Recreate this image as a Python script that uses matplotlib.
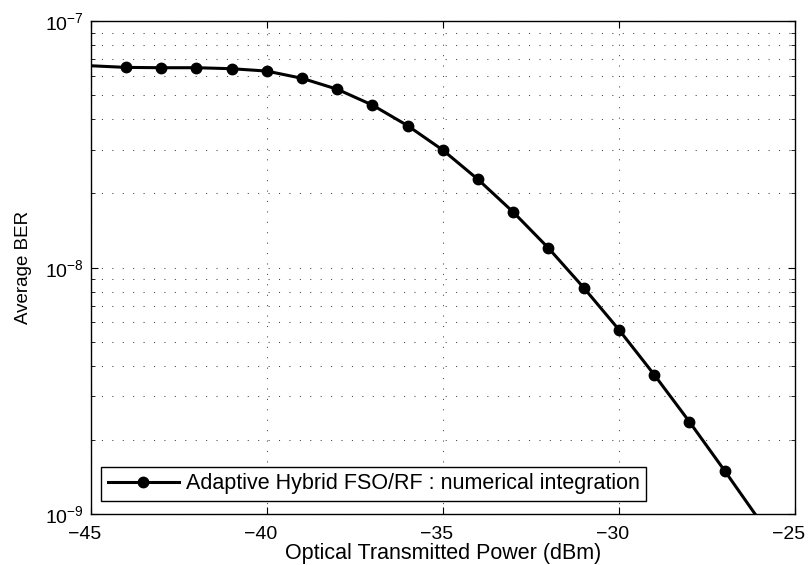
import matplotlib
matplotlib.use("Agg")
import matplotlib.pyplot as plt
import matplotlib.transforms as mtransforms
from matplotlib.ticker import LogLocator, NullFormatter

plt.rcParams['font.family'] = ['Liberation Sans', 'DejaVu Sans']
plt.rcParams['mathtext.default'] = 'regular'

power_dbm = [-45, -44, -43, -42, -41, -40, -39, -38, -37, -36, -35, -34, -33,
             -32, -31, -30, -29, -28, -27, -26]
avg_ber = [6.60e-8, 6.50e-8, 6.48e-8, 6.48e-8, 6.42e-8, 6.28e-8, 5.87e-8, 5.30e-8,
           4.57e-8, 3.77e-8, 3.00e-8, 2.28e-8, 1.68e-8, 1.20e-8, 8.29e-9, 5.60e-9,
           3.68e-9, 2.37e-9, 1.50e-9, 9.39e-10]
series_label = 'Adaptive Hybrid FSO/RF : numerical integration'
x_ticks = [-45, -40, -35, -30, -25]
x_tick_labels = ['\u221245', '\u221240', '\u221235', '\u221230', '\u221225']

fig = plt.figure(figsize=(8.09, 5.65), dpi=100)
ax = fig.add_axes([90.7/809, 1 - 514/565, (795 - 90.7)/809, (514 - 21.3)/565])

ax.semilogy(power_dbm, avg_ber, color='black', lw=2.2, marker='o', ms=7.5,
            markevery=slice(1, len(power_dbm) - 1), label=series_label, zorder=3)

ax.set_xlim(-45, -25)
ax.set_ylim(1e-9, 1e-7)
ax.set_xticks(x_ticks)
ax.set_xticklabels(x_tick_labels)
ax.yaxis.set_major_locator(LogLocator(base=10, numticks=10))
ax.yaxis.set_minor_locator(LogLocator(base=10, subs=range(2, 10), numticks=20))
ax.yaxis.set_minor_formatter(NullFormatter())

grid_style = dict(linestyle=(0, (1, 9)), color='#444444', lw=0.75)
ax.grid(True, which='major', **grid_style)
ax.grid(True, which='minor', axis='y', **grid_style)

ax.tick_params(which='both', direction='in', top=True, right=True, labelsize=14,
               color='black')
ax.tick_params(axis='x', which='major', length=5, pad=8.5)
ax.tick_params(axis='y', which='major', length=5, pad=5)
ax.tick_params(which='minor', length=3)
for s in ax.spines.values():
    s.set_linewidth(1.0)
    s.set_color('black')

# MATLAB centres the digits on the tick; the minus sign hangs to the left
shift = mtransforms.ScaledTranslation(-6 / 100, 0, fig.dpi_scale_trans)
for lab in ax.get_xticklabels():
    lab.set_transform(lab.get_transform() + shift)

ax.set_xlabel('Optical Transmitted Power (dBm)', fontsize=15.5, labelpad=0.5)
ax.set_ylabel('Average BER', fontsize=13.5, labelpad=9)

leg = ax.legend(loc='lower left', bbox_to_anchor=(0.0148, 0.0265), fontsize=15.5,
                frameon=True, fancybox=False, edgecolor='black', framealpha=1,
                handlelength=3.3, handletextpad=0.33, borderpad=0.3,
                borderaxespad=0)
leg.get_frame().set_linewidth(1.0)

fig.savefig('out.png', dpi=100)
